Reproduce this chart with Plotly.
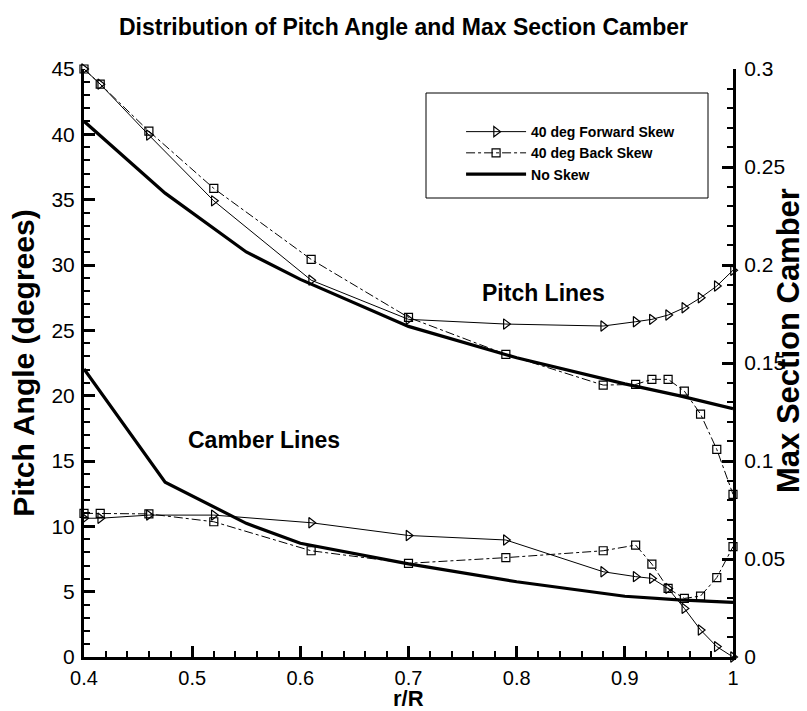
import plotly.graph_objects as go

# Radial stations (r/R) for the skewed blade designs
r_skew = [0.4, 0.415, 0.46, 0.52, 0.61, 0.70, 0.79, 0.88, 0.91, 0.925, 0.94, 0.955, 0.97, 0.985, 1.0]
# Radial stations for the unskewed blade
r_noskew = [0.4, 0.475, 0.55, 0.6, 0.7, 0.8, 0.9, 0.95, 1.0]

# Pitch angle (degrees)
pitch_fwd = [45.0, 43.84, 39.94, 34.91, 28.84, 25.84, 25.48, 25.33, 25.66, 25.84, 26.17, 26.73, 27.49, 28.39, 29.6]
pitch_back = [45.0, 43.84, 40.24, 35.86, 30.43, 25.99, 23.16, 20.81, 20.86, 21.25, 21.25, 20.35, 18.59, 15.89, 12.45]
pitch_noskew = [41.0, 35.5, 31.0, 28.9, 25.3, 22.9, 20.9, 20.0, 19.0]

# Max section camber (fraction of chord)
camber_fwd = [0.0708, 0.0708, 0.0724, 0.0724, 0.0685, 0.0620, 0.0597, 0.0435, 0.0410, 0.0401, 0.0350, 0.0248, 0.0138, 0.0053, 0.0]
camber_back = [0.0733, 0.0733, 0.0730, 0.0690, 0.0542, 0.0478, 0.0507, 0.0542, 0.0571, 0.0474, 0.0350, 0.0299, 0.0311, 0.0405, 0.0563]
camber_noskew = [0.147, 0.0892, 0.0682, 0.0580, 0.0475, 0.0384, 0.0310, 0.0291, 0.0279]

# Axis ranges and tick spacing (major, minor)
r_range = [0.4, 1.0]
pitch_range = [0, 45]
camber_range = [0, 0.3]
r_steps = (0.1, 0.02)
pitch_steps = (5, 1)
camber_steps = (0.05, 0.01)

FONT = "Liberation Sans, Arial, Helvetica, sans-serif"
BLACK = "#000000"

fwd_marker = dict(symbol="triangle-right-open", size=9, color=BLACK, line=dict(width=1.2, color=BLACK))
back_marker = dict(symbol="square-open", size=8, color=BLACK, line=dict(width=1.2, color=BLACK))

fig = go.Figure()

# Pitch lines (left axis)
fig.add_trace(go.Scatter(x=r_skew, y=pitch_fwd, mode="lines+markers", name="<b>40 deg Forward Skew</b>",
                         line=dict(color=BLACK, width=1), marker=fwd_marker, cliponaxis=False))
fig.add_trace(go.Scatter(x=r_skew, y=pitch_back, mode="lines+markers", name="<b>40 deg Back Skew</b>",
                         line=dict(color=BLACK, width=1, dash="dashdot"), marker=back_marker, cliponaxis=False))
fig.add_trace(go.Scatter(x=r_noskew, y=pitch_noskew, mode="lines", name="<b>No Skew</b>",
                         line=dict(color=BLACK, width=3.2), cliponaxis=False))

# Camber lines (right axis)
fig.add_trace(go.Scatter(x=r_skew, y=camber_fwd, mode="lines+markers", yaxis="y2", showlegend=False,
                         line=dict(color=BLACK, width=1), marker=fwd_marker, cliponaxis=False))
fig.add_trace(go.Scatter(x=r_skew, y=camber_back, mode="lines+markers", yaxis="y2", showlegend=False,
                         line=dict(color=BLACK, width=1, dash="dashdot"), marker=back_marker, cliponaxis=False))
fig.add_trace(go.Scatter(x=r_noskew, y=camber_noskew, mode="lines", yaxis="y2", showlegend=False,
                         line=dict(color=BLACK, width=3.2), cliponaxis=False))


def axis_style(steps, tick0=0, size=21):
    return dict(
        tickmode="linear", tick0=tick0, dtick=steps[0],
        ticks="inside", ticklen=11, tickwidth=3, tickcolor=BLACK,
        minor=dict(tickmode="linear", tick0=tick0, dtick=steps[1],
                   ticks="inside", ticklen=6, tickwidth=1.5, tickcolor=BLACK),
        showline=True, linewidth=3, linecolor=BLACK, layer="above traces",
        showgrid=False, zeroline=False, automargin=False,
        tickfont=dict(family=FONT, size=size, color=BLACK),
    )


fig.update_layout(
    template="none",
    width=807, height=711,
    margin=dict(l=84, r=74, t=69, b=54),
    paper_bgcolor="white", plot_bgcolor="white",
    font=dict(family=FONT, color=BLACK),
    title=dict(text="<b>Distribution of Pitch Angle and Max Section Camber</b>",
               x=0.5, xanchor="center", y=0.962, yanchor="middle",
               font=dict(family=FONT, size=23, color=BLACK)),
    xaxis=dict(range=r_range, ticklabelstandoff=1, **axis_style(r_steps, r_range[0], size=20)),
    yaxis=dict(range=pitch_range, ticklabelstandoff=2, **axis_style(pitch_steps),
               title=dict(text="<b>Pitch Angle (degrees)</b>",
                          font=dict(family=FONT, size=30, color=BLACK), standoff=8)),
    yaxis2=dict(range=camber_range, overlaying="y", side="right", ticklabelstandoff=4,
                **axis_style(camber_steps)),
    legend=dict(x=0.581, y=0.92, xanchor="left", yanchor="top",
                bgcolor="rgba(0,0,0,0)", borderwidth=0,
                font=dict(family=FONT, size=14, color=BLACK),
                itemwidth=60, tracegroupgap=0),
    showlegend=True,
)

# Legend frame
fig.add_shape(type="rect", xref="paper", yref="paper",
              x0=(426 - 84) / 649, x1=(708 - 84) / 649,
              y0=(657 - 198) / 588, y1=(657 - 93) / 588,
              line=dict(color=BLACK, width=1), fillcolor="rgba(0,0,0,0)", layer="below")

# Axis titles placed explicitly
fig.add_annotation(x=0.5, y=0, xref="paper", yref="paper", yshift=-56,
                   text="<b>r/R</b>", showarrow=False, xanchor="center", yanchor="bottom",
                   font=dict(family=FONT, size=22, color=BLACK))
fig.add_annotation(x=(788 - 84) / 649, y=(657 - 341) / 588, xref="paper", yref="paper",
                   text="<b>Max Section Camber</b>", textangle=-90, showarrow=False,
                   xanchor="center", yanchor="middle",
                   font=dict(family=FONT, size=31, color=BLACK))

fig.add_annotation(x=0.825, y=27.85, xref="x", yref="y", text="<b>Pitch Lines</b>",
                   showarrow=False, font=dict(family=FONT, size=23, color=BLACK))
fig.add_annotation(x=0.566, y=16.6, xref="x", yref="y", text="<b>Camber Lines</b>",
                   showarrow=False, font=dict(family=FONT, size=23, color=BLACK))

fig.write_html("out.html")
